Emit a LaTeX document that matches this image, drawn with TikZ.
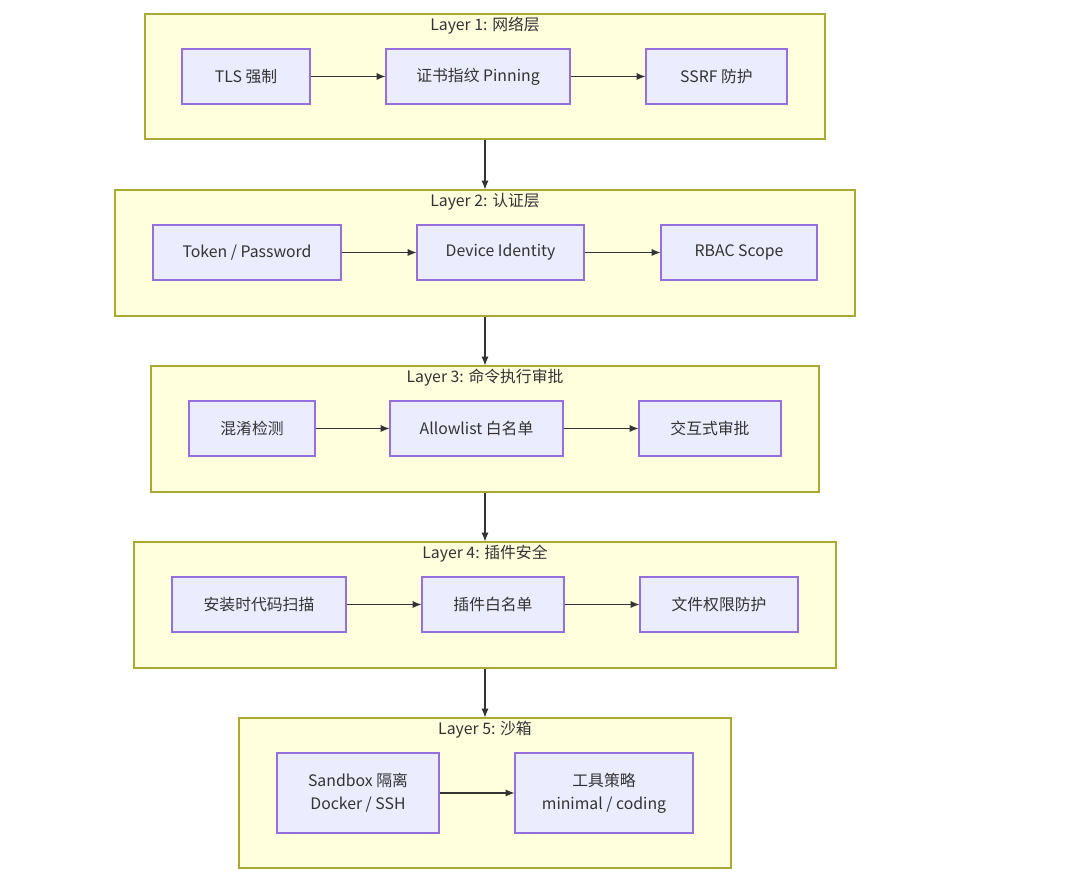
\documentclass[tikz,border=0pt]{standalone}
\usepackage{fontspec}
\setmainfont{Noto Sans CJK SC}
\usepackage{xcolor}
\usepackage{tikz}
\definecolor{layerfill}{HTML}{FFFFDE}
\definecolor{layerline}{HTML}{AAAA33}
\definecolor{stagefill}{HTML}{ECECFF}
\definecolor{stageline}{HTML}{9370DB}
\definecolor{ink}{HTML}{333333}
\usetikzlibrary{arrows.meta, positioning}

\tikzset{
	layer/.style = {draw = layerline, fill = layerfill, line width = 0.6pt, inner sep = 0pt},
	stage/.style = {draw = stageline, fill = stagefill, line width = 0.6pt, align = center, text = ink, font = \fontsize{9}{13}\selectfont, inner sep = 0pt},
	title/.style = {text = ink, font = \fontsize{9}{11}\selectfont},
	flow/.style = {-{Latex[length=5pt, width=4pt]}, draw = ink, line width = 0.6pt}
}

\begin{document}
\begin{tikzpicture}[x=0.02cm, y=-0.02cm]
	\useasboundingbox (0,0) rectangle (1080,881);
	
	% layers
	\node[layer, minimum width = 680*0.02cm, minimum height = 125*0.02cm] (l1) at (485,76.5) {};
	\node[layer, minimum width = 740*0.02cm, minimum height = 126*0.02cm] (l2) at (485,253) {};
	\node[layer, minimum width = 668*0.02cm, minimum height = 126*0.02cm] (l3) at (485,429) {};
	\node[layer, minimum width = 702*0.02cm, minimum height = 126*0.02cm] (l4) at (485,605) {};
	\node[layer, minimum width = 492*0.02cm, minimum height = 150*0.02cm] (l5) at (485,793) {};
	
	\node[title] at (485,26) {Layer 1: 网络层};
	\node[title] at (485,202) {Layer 2: 认证层};
	\node[title] at (485,378) {Layer 3: 命令执行审批};
	\node[title] at (485,554) {Layer 4: 插件安全};
	\node[title] at (485,730) {Layer 5: 沙箱};
	
	% layer 1
	\node[stage, minimum width = 128*0.02cm, minimum height = 55*0.02cm] (tls) at (246,76.5) {TLS 强制};
	\node[stage, minimum width = 184*0.02cm, minimum height = 55*0.02cm] (pin) at (478,76.5) {证书指纹 Pinning};
	\node[stage, minimum width = 141*0.02cm, minimum height = 55*0.02cm] (ssrf) at (716.5,76.5) {SSRF 防护};
	% layer 2
	\node[stage, minimum width = 188*0.02cm, minimum height = 55*0.02cm] (token) at (247,252.5) {Token / Password};
	\node[stage, minimum width = 167*0.02cm, minimum height = 55*0.02cm] (device) at (500.5,252.5) {Device Identity};
	\node[stage, minimum width = 156*0.02cm, minimum height = 55*0.02cm] (rbac) at (739,252.5) {RBAC Scope};
	% layer 3
	\node[stage, minimum width = 126*0.02cm, minimum height = 55*0.02cm] (obf) at (252,428.5) {混淆检测};
	\node[stage, minimum width = 173*0.02cm, minimum height = 55*0.02cm] (allow) at (476.5,428.5) {Allowlist 白名单};
	\node[stage, minimum width = 142*0.02cm, minimum height = 55*0.02cm] (ask) at (710,428.5) {交互式审批};
	% layer 4
	\node[stage, minimum width = 174*0.02cm, minimum height = 55*0.02cm] (scan) at (259,604.5) {安装时代码扫描};
	\node[stage, minimum width = 142*0.02cm, minimum height = 55*0.02cm] (plug) at (493,604.5) {插件白名单};
	\node[stage, minimum width = 158*0.02cm, minimum height = 55*0.02cm] (perm) at (719,604.5) {文件权限防护};
	% layer 5
	\node[stage, minimum width = 162*0.02cm, minimum height = 80*0.02cm] (sandbox) at (358,793) {Sandbox 隔离\\Docker / SSH};
	\node[stage, minimum width = 178*0.02cm, minimum height = 80*0.02cm] (tools) at (604,793) {工具策略\\minimal / coding};
	
	\draw[flow] (tls) -- (pin);
	\draw[flow] (pin) -- (ssrf);
	\draw[flow] (token) -- (device);
	\draw[flow] (device) -- (rbac);
	\draw[flow] (obf) -- (allow);
	\draw[flow] (allow) -- (ask);
	\draw[flow] (scan) -- (plug);
	\draw[flow] (plug) -- (perm);
	\draw[flow] (sandbox) -- (tools);
	
	\draw[flow] (l1) -- (l2);
	\draw[flow] (l2) -- (l3);
	\draw[flow] (l3) -- (l4);
	\draw[flow] (l4) -- (l5);
	
\end{tikzpicture}
\end{document}
